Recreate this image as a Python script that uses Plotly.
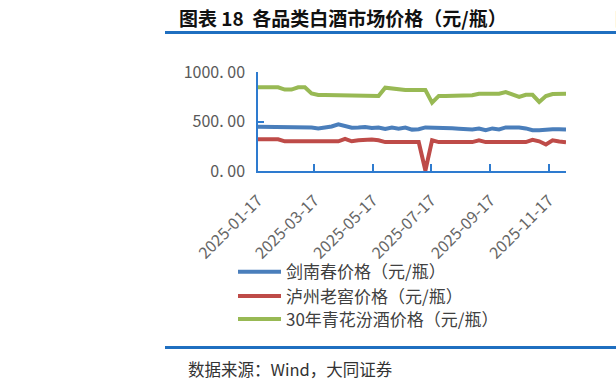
import plotly.graph_objects as go
import pandas as pd

# ---- data ----
dates = pd.date_range("2025-01-17", periods=47, freq="7D").strftime("%Y-%m-%d").tolist()

jnc = [448, 448, 448, 448, 448, 448, 448, 446, 440, 430, 435, 450, 472, 450, 437, 440,
       445, 435, 440, 425, 440, 428, 438, 418, 422, 440, 440, 435, 430, 432, 428, 420,
       420, 428, 412, 430, 420, 440, 443, 440, 430, 412, 412, 420, 422, 422, 420]

lzlj = [320, 320, 320, 320, 300, 300, 300, 300, 300, 300, 300, 300, 300, 325, 300, 310,
        318, 318, 310, 292, 292, 292, 292, 292, 292, 5, 310, 292, 292, 292, 292, 292,
        292, 310, 292, 292, 292, 292, 292, 292, 292, 315, 300, 268, 310, 298, 290]

fj30 = [845, 845, 845, 845, 822, 822, 845, 845, 783, 767, 767, 767, 767, 757, 757, 757,
        757, 757, 757, 842, 835, 818, 818, 818, 818, 818, 690, 758, 758, 758, 758, 758,
        765, 780, 780, 780, 780, 797, 775, 748, 770, 770, 698, 757, 778, 780, 780]

tick_dates = ["2025-01-17", "2025-03-17", "2025-05-17", "2025-07-17", "2025-09-17", "2025-11-17"]
y_ticks = [0, 500, 1000]

names = ["剑南春价格（元/瓶）", "泸州老窖价格（元/瓶）", "30年青花汾酒价格（元/瓶）"]
colors = ["#4A7EBB", "#BE4B48", "#98B954"]

FONT = "Noto Sans CJK SC"
AX = "#2E7BCF"

def px_x(x):
    return (x - 258) / 308.0

def px_y(y):
    return (171 - y) / 98.7

fig = go.Figure()
legend_ids = ["legend", "legend2", "legend3"]
for name, vals, col, lg in zip(names, [jnc, lzlj, fj30], colors, legend_ids):
    fig.add_trace(go.Scatter(x=dates, y=vals, name=name, mode="lines", legend=lg,
                             line=dict(color=col, width=4)))

row_y = [272, 296, 319]
legend_common = dict(xanchor="left", yanchor="middle",
                     font=dict(size=17, color="#404040", family=FONT),
                     itemwidth=43, bgcolor="rgba(0,0,0,0)")

fig.update_layout(
    width=616, height=389,
    margin=dict(l=258, r=50, t=72, b=218, autoexpand=False),
    paper_bgcolor="white", plot_bgcolor="white",
    font=dict(family=FONT, color="#595959"),
    showlegend=True,
    legend=dict(x=px_x(233), y=px_y(row_y[0]), **legend_common),
    legend2=dict(x=px_x(233), y=px_y(row_y[1]), **legend_common),
    legend3=dict(x=px_x(233), y=px_y(row_y[2]), **legend_common),
    xaxis=dict(type="date", range=[dates[0], dates[-1]], automargin=False,
               tickmode="array", tickvals=tick_dates, ticktext=tick_dates,
               tickangle=-45, tickfont=dict(size=16, color="#666666", family=FONT),
               ticklabelstandoff=12,
               showgrid=False, zeroline=False,
               showline=True, linecolor=AX, linewidth=1.5,
               ticks="inside", ticklen=7, tickcolor=AX, tickwidth=1.5),
    yaxis=dict(range=[0, 1000], tickmode="array", tickvals=y_ticks, automargin=False,
               ticktext=["0. 00", "500. 00", "1000. 00"],
               tickfont=dict(size=16, color="#595959", family=FONT),
               ticklabelstandoff=8,
               showgrid=False, zeroline=False,
               showline=True, linecolor=AX, linewidth=1.5,
               ticks="inside", ticklen=6, tickcolor=AX, tickwidth=1.5),
)

fig.add_shape(type="line", xref="paper", yref="paper",
              x0=px_x(165), x1=px_x(620), y0=px_y(33), y1=px_y(33),
              line=dict(color="#1F6FC0", width=3))
fig.add_shape(type="line", xref="paper", yref="paper",
              x0=px_x(165), x1=px_x(620), y0=px_y(347), y1=px_y(347),
              line=dict(color="#1F6FC0", width=3))

fig.add_annotation(text="<b>图表 18  各品类白酒市场价格（元/瓶）</b>", xref="paper", yref="paper",
                   x=px_x(177), y=px_y(18), xanchor="left", yanchor="middle",
                   showarrow=False, font=dict(size=19, color="#111111", family=FONT))
fig.add_annotation(text="<b>图</b>", xref="paper", yref="paper",
                   x=px_x(613), y=px_y(18), xanchor="left", yanchor="middle",
                   showarrow=False, font=dict(size=18, color="#111111", family=FONT))
fig.add_annotation(text="数据来源：Wind，大同证券", xref="paper", yref="paper",
                   x=px_x(186), y=px_y(368), xanchor="left", yanchor="middle",
                   showarrow=False, font=dict(size=16.5, color="#333333", family=FONT))

fig.write_html("out.html")
